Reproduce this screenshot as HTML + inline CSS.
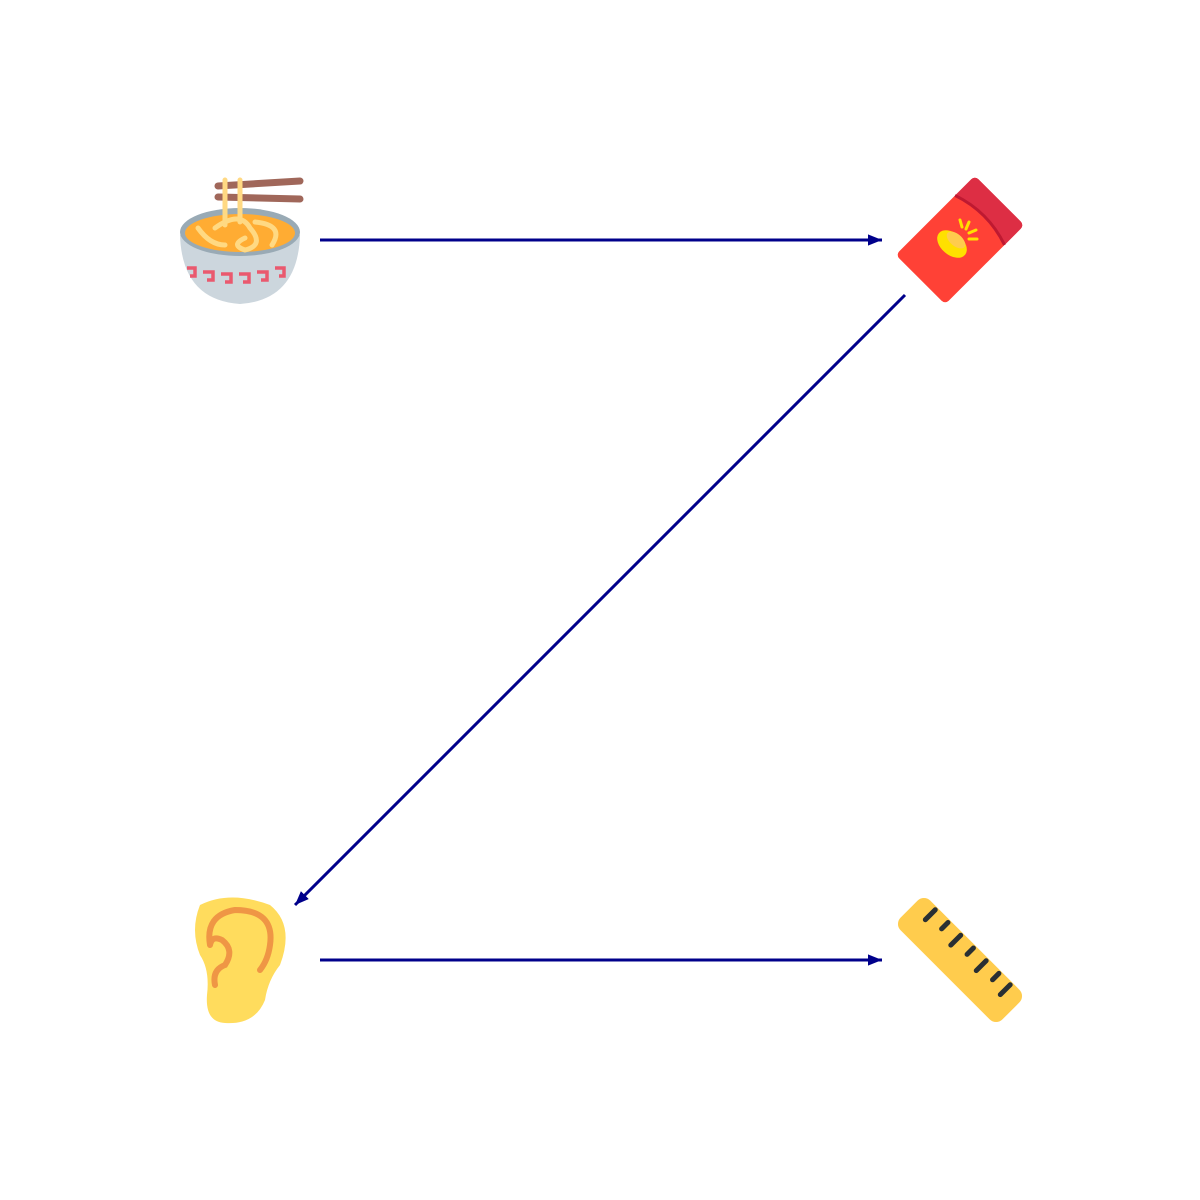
<!DOCTYPE html>
<html><head><meta charset="utf-8"><style>html,body{margin:0;padding:0;background:#fff}svg{display:block}</style></head>
<body>
<svg width="1200" height="1200" viewBox="0 0 1200 1200">
<defs>
<marker id="ah" viewBox="0 0 10 10" refX="10" refY="5" markerWidth="14" markerHeight="14" markerUnits="userSpaceOnUse" orient="auto">
<path d="M0,1 L10,5 L0,9 z" fill="#00008b"/>
</marker>
</defs>
<g stroke="#00008b" stroke-width="3" fill="none">
<line x1="320" y1="240" x2="882" y2="240" marker-end="url(#ah)"/>
<line x1="905" y1="295" x2="295" y2="905" marker-end="url(#ah)"/>
<line x1="320" y1="960" x2="882" y2="960" marker-end="url(#ah)"/>
</g>
<g>
<line x1="218" y1="186" x2="300" y2="181" stroke="#a0675a" stroke-width="7" stroke-linecap="round"/>
<line x1="218" y1="197" x2="300" y2="199" stroke="#a0675a" stroke-width="7" stroke-linecap="round"/>
<path d="M180,235 Q182,300 240,304 Q298,300 300,235 Z" fill="#ccd6dd"/>
<ellipse cx="240" cy="232" rx="60" ry="24" fill="#99aab5"/>
<ellipse cx="240" cy="233" rx="55" ry="19" fill="#ffac33"/>
<path d="M225,180 V225 M240,180 V222" stroke="#ffd983" stroke-width="5" stroke-linecap="round" fill="none"/>
<path d="M198,228 Q210,245 225,245 M215,228 Q240,210 250,228 Q265,245 245,250 Q230,245 245,238 M255,222 Q285,225 272,245" stroke="#ffd983" stroke-width="5" stroke-linecap="round" fill="none"/>
<g stroke="#ea596e" stroke-width="3.5" fill="none">
<path d="M187,268 h8 v8 h-5 M203,272 h10 v8 h-6 M221,274 h10 v8 h-6 M239,274 h10 v8 h-6 M257,272 h10 v8 h-6 M275,268 h9 v8 h-5"/>
</g>
</g>
<g transform="translate(960,240) rotate(-45)">
<rect x="-56" y="-35" width="112" height="70" rx="5" fill="#ff4136"/>
<path d="M28,-35 H51 a5,5 0 0 1 5,5 V30 a5,5 0 0 1 -5,5 H28 Q40,0 28,-35 Z" fill="#dd2e44"/>
<path d="M28,-35 Q40,0 28,35" stroke="#be1931" stroke-width="3" fill="none"/>
<g transform="rotate(45)">
<ellipse cx="-8" cy="4" rx="17" ry="11" fill="#ffe000" transform="rotate(40 -8 4)"/>
<ellipse cx="-4" cy="0" rx="11" ry="6" fill="#ffcc4d" transform="rotate(40 -4 0)"/>
<path d="M0,-20 l2,7 M9,-18 l-3,7 M16,-10 l-7,3 M17,-1 l-8,0" stroke="#ffe000" stroke-width="3" stroke-linecap="round"/>
</g>
</g>
<g>
<path d="M200,905 Q230,890 270,905 Q295,925 280,965 Q268,980 265,1000 Q255,1025 225,1023 Q205,1022 207,995 Q210,970 200,955 Q190,930 200,905 Z" fill="#ffdc5d"/>
<path d="M210,945 Q205,915 235,910 Q275,910 270,945 Q268,960 260,970 M215,985 Q212,970 225,965 Q235,950 222,940 Q212,935 210,945" stroke="#ef9645" stroke-width="6" stroke-linecap="round" fill="none"/>
</g>
<g transform="translate(960,960) rotate(45)">
<rect x="-72" y="-21" width="144" height="42" rx="9" fill="#ffcc4d"/>
<path d="M-53,-21 v14 M-35,-21 v9 M-17,-21 v14 M1,-21 v9 M19,-21 v14 M37,-21 v9 M53,-21 v14" stroke="#292f33" stroke-width="5" stroke-linecap="round" transform="translate(0,3)"/>
</g>
</svg>
</body></html>
